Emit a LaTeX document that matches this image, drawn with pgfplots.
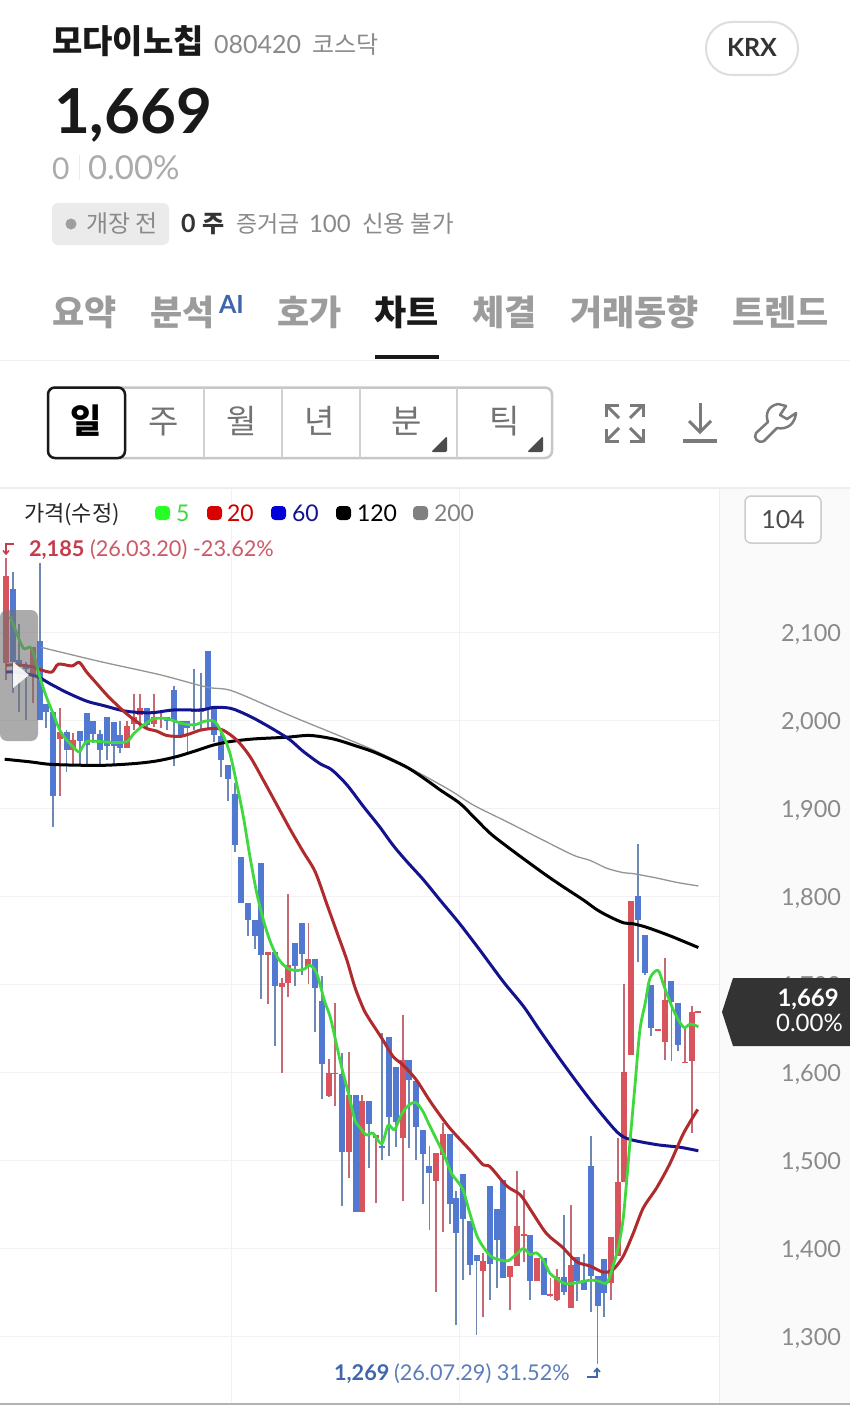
\documentclass[border=0pt]{standalone}
\usepackage{fontspec}
\usepackage{pgfplots}
\usepackage{pgfplotstable}
\pgfplotsset{compat=1.18}
\setmainfont{Lato}
\newfontfamily\kr{Noto Sans CJK KR}
\definecolor{upb}{HTML}{D9535C}
\definecolor{upw}{HTML}{C46A75}
\definecolor{dnb}{HTML}{5279D2}
\definecolor{dnw}{HTML}{6E88B4}
\definecolor{tabg}{HTML}{9C9C9C}
\definecolor{txg}{HTML}{8A8A8A}
\definecolor{lnr}{HTML}{B02A2E}
\definecolor{lng}{HTML}{3FD83F}
\definecolor{lnb}{HTML}{13138E}
\definecolor{hred}{HTML}{C33D4B}
\definecolor{hblue}{HTML}{3F66AC}
\pgfplotstableread{
x hi lo top bot
0 2185 2046 2164 2065
4 2084 2020 2084 2051
8 2014 1914 1987 1979
10 1986 1948 1978 1966
18 1999 1969 1994 1969
19 2030 1989 2004 1996
20 2030 1993 2014 2006
22 2030 1993 2004 1996
23 2008 1991 2004 2002
39 1737 1678 1737 1733
41 1707 1600 1702 1697
42 1803 1686 1722 1702
45 1770 1701 1729 1720
48 1615 1572 1599 1573
49 1679 1562 1600 1599
51 1623 1480 1574 1510
53 1574 1441 1568 1441
55 1529 1452 1529 1525
59 1665 1454 1614 1526
64 1508 1351 1508 1477
65 1543 1419 1530 1506
71 1395 1322 1386 1374
75 1380 1330 1380 1368
76 1488 1380 1426 1380
77 1466 1385 1416 1415
79 1389 1363 1389 1363
81 1366 1345 1348 1346
82 1377 1340 1368 1341
84 1450 1332 1381 1332
90 1413 1341 1413 1361
91 1525 1391 1475 1391
92 1700 1475 1601 1475
93 1795 1620 1795 1620
97 1649 1647 1649 1647
98 1730 1614 1682 1635
101 1652 1611 1612 1611
102 1675 1531 1669 1613
103 1670 1668 1670 1668
}\upcandles
\pgfplotstableread{
x hi lo top bot
1 2169 2031 2149 2067
2 2110 2010 2069 2063
3 2067 2000 2063 2059
5 2179 2001 2090 2001
6 2019 1991 2019 2010
7 2010 1879 2010 1914
9 1989 1942 1987 1966
11 1988 1948 1988 1977
12 2009 1949 2009 1972
13 1999 1974 1999 1985
14 1989 1948 1985 1966
15 2004 1955 2004 1971
16 1998 1949 1998 1971
17 1999 1963 1983 1969
21 2014 1991 2014 1995
24 2004 1989 2004 1999
25 2039 1948 2035 1999
26 1999 1980 1999 1982
27 1999 1963 1999 1991
28 2059 1989 2013 2010
29 2054 1989 2012 2010
30 2079 1991 2079 2014
31 2014 1976 2014 1983
32 1989 1936 1982 1955
33 1949 1909 1949 1934
34 1929 1850 1917 1858
35 1845 1793 1845 1793
36 1793 1755 1793 1773
37 1773 1740 1773 1755
38 1838 1683 1838 1733
40 1737 1630 1737 1698
43 1747 1698 1747 1721
44 1770 1711 1770 1735
46 1729 1646 1729 1696
47 1710 1570 1681 1610
50 1622 1448 1598 1510
52 1574 1441 1574 1441
54 1568 1491 1568 1542
56 1645 1500 1516 1515
57 1640 1505 1640 1550
58 1606 1515 1606 1544
60 1614 1514 1614 1591
61 1590 1500 1590 1538
62 1535 1451 1535 1507
63 1517 1421 1494 1486
66 1530 1428 1530 1451
67 1465 1313 1457 1418
68 1485 1364 1485 1434
69 1431 1370 1431 1381
70 1393 1302 1393 1386
72 1471 1342 1471 1382
73 1445 1355 1445 1410
74 1478 1367 1478 1367
78 1415 1342 1415 1363
80 1389 1347 1389 1347
83 1438 1347 1368 1350
85 1390 1340 1390 1363
86 1394 1353 1364 1353
87 1528 1328 1494 1369
88 1369 1269 1369 1335
89 1388 1322 1388 1350
94 1860 1725 1800 1773
95 1756 1711 1756 1713
96 1699 1641 1699 1650
99 1704 1613 1704 1680
100 1679 1624 1679 1631
}\dncandles
\begin{document}
\begin{tikzpicture}[t/.style={anchor=base west,inner sep=0pt,outer sep=0pt}]
\path[use as bounding box,fill=white] (0pt,0pt) rectangle (850pt,-1405pt);
\begin{scope}[x=1pt,y=1pt]
% header
\node[t,font=\kr\bfseries\fontsize{33}{33}\selectfont,text=black!90] at (52,-53) {모다이노칩};
\node[t,font=\fontsize{25}{25}\selectfont,text=txg] at (214,-53) {080420};
\node[t,font=\kr\fontsize{24}{24}\selectfont,text=txg] at (312,-53) {코스닥};
\draw[draw=black!13,line width=2pt,fill=white,rounded corners=26pt] (706,-22) rectangle (798,-75);
\node[font=\bfseries\fontsize{25}{25}\selectfont,text=black!80,inner sep=0pt,anchor=base] at (752,-57) {KRX};
\node[t,font=\bfseries\fontsize{62}{62}\selectfont,text=black!90] at (54,-133) {1,669};
\node[t,font=\fontsize{30}{30}\selectfont,text=tabg!85!white] at (52,-179) {0};
\draw[black!8,line width=1pt] (79,-155) -- (79,-180);
\node[t,font=\fontsize{33}{33}\selectfont,text=tabg!85!white] at (88,-179) {0.00\%};
\fill[fill=black!8,rounded corners=6pt] (52,-203) rectangle (169,-245);
\fill[black!38] (71,-224) circle (5.5);
\node[t,font=\kr\fontsize{24}{24}\selectfont,text=txg] at (86,-232) {개장 전};
\node[t,font=\bfseries\fontsize{25}{25}\selectfont,text=black!80] at (181,-232) {0};
\node[t,font=\kr\bfseries\fontsize{24}{24}\selectfont,text=black!80] at (202,-232) {주};
\node[t,font=\kr\fontsize{23}{23}\selectfont,text=txg] at (236,-232) {증거금};
\node[t,font=\fontsize{24}{24}\selectfont,text=txg] at (309,-232) {100};
\node[t,font=\kr\fontsize{23.5}{23.5}\selectfont,text=txg] at (362,-232) {신용 불가};
% tabs
\foreach \px/\w in {52/요약,150/분석,277/호가,472/체결,570/거래동향,732/트렌드}
  \node[t,font=\kr\bfseries\fontsize{35}{35}\selectfont,text=tabg] at (\px,-325) {\w};
\node[t,font=\kr\bfseries\fontsize{35}{35}\selectfont,text=black!90] at (374,-325) {차트};
\node[t,font=\bfseries\fontsize{25}{25}\selectfont,text=hblue] at (219,-313) {AI};
\fill[black!90] (375,-354.5) rectangle (439,-359);
\draw[black!6,line width=1pt] (0,-360) -- (850,-360);
% period buttons
\draw[draw=black!22,line width=2.5pt,rounded corners=7pt] (48,-387.5) rectangle (552,-458);
\foreach \px in {204,282,360,457} \draw[black!18,line width=1.5pt] (\px,-388) -- (\px,-458);
\draw[draw=black!90,line width=2.5pt,rounded corners=7pt,fill=white] (48,-387.5) -- (125,-387.5) -- (125,-458) -- (48,-458) -- cycle;
\node[font=\kr\bfseries\fontsize{34}{34}\selectfont,text=black,inner sep=0pt,anchor=base] at (86,-433) {일};
\foreach \px/\w in {164/주,242/월,320/년,407/분,505/틱}
  \node[font=\kr\fontsize{33}{33}\selectfont,text=black!55,inner sep=0pt,anchor=base] at (\px,-433) {\w};
\fill[black!70,rounded corners=1.5pt] (447,-452) -- (431,-452) -- (447,-436) -- cycle;
\fill[black!70,rounded corners=1.5pt] (543,-452) -- (527,-452) -- (543,-436) -- cycle;
% icons
\begin{scope}[draw=black!52,line width=3pt]
\draw (606,-417) -- (606,-405) -- (619,-405);
\draw (630,-405) -- (643,-405) -- (643,-417);
\draw (606,-429) -- (606,-441) -- (619,-441);
\draw (630,-441) -- (643,-441) -- (643,-429);
\draw (607,-406) -- (619,-418);\draw (642,-406) -- (630,-418);
\draw (607,-440) -- (619,-428);\draw (642,-440) -- (630,-428);
\draw (700,-403) -- (700,-432);\draw (689,-421) -- (700,-432) -- (711,-421);
\draw[line width=3.5pt] (683,-441) -- (717,-441);
\draw[line width=2.5pt,line join=round] (778,-404) .. controls (768,-406) and (765,-414) .. (768,-422) -- (756,-433) .. controls (753,-438) and (758,-444) .. (764,-441) -- (777,-428) .. controls (787,-430) and (795,-424) .. (796,-413) -- (787,-419) -- (780,-415) -- (786,-406) -- cycle;
\end{scope}
% chart frame
\fill[black!2] (719,-488) rectangle (850,-1403);
\draw[black!7,line width=2pt] (0,-488) -- (850,-488);
\draw[black!7,line width=1pt] (719,-488) -- (719,-1403);
\draw[black!30,line width=1.5pt] (0,-1404) -- (850,-1404);
\end{scope}
\begin{axis}[at={(0pt,-488pt)},anchor=north west,scale only axis,
  width=719pt,height=915pt,
  xmin=-0.893,xmax=106.07,ymin=1224.4,ymax=2264.2,
  xtick={33.6,67.5},xticklabels={},
  ytick={1300,1400,...,2100},
  yticklabel pos=right,
  axis line style={draw=none},major tick length=0pt,
  grid=major,grid style={draw=black!5,line width=1pt},
  /pgf/number format/assume math mode=true,
  /pgf/number format/1000 sep={,},
  yticklabel style={anchor=west,xshift=62pt,yshift=-2pt,font=\fontsize{23.5}{23.5}\selectfont,text=txg,inner sep=0pt},
  line join=round]
% wicks
\addplot[draw=none,mark=none,forget plot,error bars/.cd,y dir=both,y explicit,error mark=none,error bar style={line width=1.9pt,upw}]
  table[x=x,y expr={(\thisrow{hi}+\thisrow{lo})/2},y error expr={(\thisrow{hi}-\thisrow{lo})/2}] {\upcandles};
\addplot[draw=none,mark=none,forget plot,error bars/.cd,y dir=both,y explicit,error mark=none,error bar style={line width=1.9pt,dnw}]
  table[x=x,y expr={(\thisrow{hi}+\thisrow{lo})/2},y error expr={(\thisrow{hi}-\thisrow{lo})/2}] {\dncandles};
% bodies
\addplot[draw=none,mark=none,forget plot,error bars/.cd,y dir=both,y explicit,error mark=none,error bar style={line width=6pt,upb}]
  table[x=x,y expr={(\thisrow{top}+\thisrow{bot})/2},y error expr={(\thisrow{top}-\thisrow{bot})/2}] {\upcandles};
\addplot[draw=none,mark=none,forget plot,error bars/.cd,y dir=both,y explicit,error mark=none,error bar style={line width=6pt,dnb}]
  table[x=x,y expr={(\thisrow{top}+\thisrow{bot})/2},y error expr={(\thisrow{top}-\thisrow{bot})/2}] {\dncandles};
% MA200
\addplot[draw=black!42,line width=1.3pt,mark=none,smooth,tension=0.5] coordinates {
(5.3,2083)(14,2067)(22.9,2052)(29.8,2038)(33.5,2034)(40,2013)(43.7,2001)(48.2,1987)(51.7,1976)(55.1,1965)(59.6,1948)(66,1921)(69.5,1904)(74.5,1885)(79.4,1866)(84.4,1847)(86.9,1841)(89.4,1832)(91.9,1827)(93.3,1826)(96.8,1821)(99.8,1816)(103,1812)};
% MA120
\addplot[draw=black,line width=3pt,mark=none,smooth,tension=0.5] coordinates {
(-0.2,1956)(3.6,1953)(7,1950)(14,1949)(19,1951)(22.4,1954)(25.4,1959)(28.4,1966)(30.8,1972)(33.3,1976)(36.8,1979)(41.75,1981)(45.2,1983)(48.7,1979)(51.7,1972)(55.1,1963)(59.6,1947)(62.6,1932)(64.6,1921)(67.5,1906)(69.5,1891)(72,1872)(74.5,1857)(77.5,1840)(80.4,1824)(82.9,1811)(85.9,1796)(87.9,1785)(89.8,1777)(91.9,1770)(93.3,1769)(95.3,1765)(98.55,1756)(100.8,1749)(103,1742)};
% MA60
\addplot[draw=lnb,line width=3pt,mark=none,smooth,tension=0.5] coordinates {
(0,2055)(1.6,2055)(4.6,2050)(6.5,2042)(9,2032)(12,2022)(14.5,2017)(17.5,2011)(20,2009)(22,2009)(25,2012)(29,2012)(31,2015)(33.3,2014)(34.8,2010)(37,2002)(40,1989)(42.25,1978)(44.2,1965)(46.7,1951)(48.45,1944)(50.7,1927)(53.2,1902)(55.6,1879)(57.6,1858)(59.6,1840)(62.1,1819)(64.56,1796)(67.5,1769)(70.5,1739)(74,1703)(77,1675)(79.4,1648)(82.9,1610)(86.4,1574)(88.9,1550)(91.1,1531)(92.8,1524)(96.8,1518)(100.3,1515)(103,1511)};
% MA20
\addplot[draw=lnr,line width=3pt,mark=none,smooth,tension=0.5] coordinates {
(0,2063)(2,2063)(4,2061)(5,2058)(6.8,2055)(7.8,2064)(9.8,2062)(10.9,2066)(12,2055)(13.5,2042)(15,2029)(17,2014)(18.2,2006)(19.4,1999)(20.9,1991)(22.4,1988)(23.9,1983)(25.9,1982)(27.4,1985)(28.9,1989)(30.9,1991)(32.3,1989)(34.3,1978)(36.3,1959)(38.3,1932)(40.3,1904)(42.3,1876)(44.2,1851)(46,1828)(47.7,1792)(49.2,1760)(50.7,1728)(51.9,1697)(53.2,1672)(54.1,1660)(55.9,1639)(57.6,1618)(59,1609)(61,1592)(63.3,1565)(66,1537)(69,1512)(71,1495)(72,1493)(74.5,1471)(76.5,1461)(78.2,1442)(80.4,1417)(82.7,1402)(84.9,1385)(86.9,1380)(88.9,1373)(90.3,1376)(91.8,1391)(93.3,1417)(94.8,1446)(96.8,1469)(98.8,1497)(100.8,1531)(102.9,1558)};
% MA5
\addplot[draw=lng,line width=2.8pt,mark=none,smooth,tension=0.5] coordinates {
(0.6,2118)(1.4,2103)(2.6,2082)(3.8,2082)(5,2050)(6,2027)(7,2008)(8,1989)(9,1978)(10.5,1966)(11,1965)(12,1976)(14,1976)(16,1975)(18,1976)(19,1985)(20.5,1995)(22,2002)(24,2002)(26,1997)(28,1995)(29.5,1999)(31,1999)(32.3,1983)(33.3,1963)(34.3,1929)(35.3,1891)(36.3,1845)(37.3,1804)(38.3,1773)(39.3,1749)(40.3,1732)(41.3,1722)(42.3,1717)(43.5,1716)(44.5,1718)(45.2,1722)(46.2,1713)(47.4,1681)(48.2,1664)(48.9,1641)(49.9,1607)(51.05,1573)(51.9,1546)(52.6,1538)(53.6,1529)(54.6,1531)(55.9,1519)(56.85,1540)(57.8,1535)(58.8,1552)(59.8,1562)(60.95,1566)(62,1556)(63,1540)(64.3,1520)(65.3,1504)(66.3,1485)(67.9,1468)(69,1440)(70.2,1412)(72,1392)(73.5,1387)(74.7,1386)(76,1394)(77,1400)(78,1393)(78.9,1395)(79.9,1387)(80.9,1372)(81.9,1366)(83.2,1360)(84.9,1361)(86.9,1364)(88.1,1363)(89.4,1361)(90.3,1380)(91.1,1402)(91.8,1433)(92.3,1474)(92.85,1523)(93.6,1588)(94.3,1648)(95.1,1679)(95.8,1707)(97,1716)(97.9,1698)(99.05,1675)(100,1660)(100.9,1651)(101.8,1655)(103,1652)};
\end{axis}
\begin{scope}[x=1pt,y=1pt]
% scroll handle
\fill[black!55,opacity=.6,rounded corners=7pt] (0,-610) -- (38,-610) -- (38,-741) -- (0,-741) -- cycle;
\fill[white,opacity=.9] (13,-662) -- (29,-675) -- (13,-688) -- cycle;
% high/low labels
\draw[hred,line width=1.6pt] (14,-544) -- (6,-544) -- (6,-554);\draw[hred,line width=1.6pt] (3,-550.5) -- (6,-554) -- (9,-550.5);
\node[t,font=\bfseries\fontsize{21.7}{21.7}\selectfont,text=hred] at (29,-556) {2,185};
\node[t,font=\fontsize{21.7}{21.7}\selectfont,text=hred!85!white] at (90,-556) {(26.03.20) -23.62\%};
\node[t,font=\bfseries\fontsize{21.7}{21.7}\selectfont,text=hblue] at (334,-1380) {1,269};
\node[t,font=\fontsize{21.7}{21.7}\selectfont,text=hblue!85!white] at (394,-1380) {(26.07.29) 31.52\%};
\draw[hblue,line width=1.6pt] (587,-1377) -- (597,-1377) -- (597,-1369);\draw[hblue,line width=1.6pt] (594,-1372) -- (597,-1368.5) -- (600,-1372);
% legend
\node[t,font=\kr\fontsize{22}{22}\selectfont,text=black!85] at (24,-521) {가격(수정)};
\foreach \px/\c in {155/green!85!white,207/red!85!black,271/blue!85!black,336/black,413/black!50}
  \fill[fill=\c,rounded corners=4pt] (\px,-506) rectangle (\px+15,-520);
\node[t,font=\fontsize{23}{23}\selectfont,text=lng] at (176,-521) {5};
\node[t,font=\fontsize{23}{23}\selectfont,text=red!80!black] at (227,-521) {20};
\node[t,font=\fontsize{23}{23}\selectfont,text=lnb] at (292,-521) {60};
\node[t,font=\fontsize{23}{23}\selectfont,text=black] at (357,-521) {120};
\node[t,font=\fontsize{23}{23}\selectfont,text=black!50] at (434,-521) {200};
% count box
\draw[draw=black!20,line width=1.5pt,fill=white,rounded corners=6pt] (745,-496) rectangle (821,-543);
\node[font=\fontsize{25}{25}\selectfont,text=black!70,inner sep=0pt,anchor=base] at (783,-528) {104};
% price flag
\fill[black!80] (850,-978) -- (733,-978) -- (722,-1012) -- (733,-1046) -- (850,-1046) -- cycle;
\node[anchor=base east,inner sep=0pt,font=\bfseries\fontsize{24}{24}\selectfont,text=white] at (839,-1006) {1,669};
\node[anchor=base east,inner sep=0pt,font=\fontsize{24}{24}\selectfont,text=white] at (843,-1031) {0.00\%};
\end{scope}
\end{tikzpicture}
\end{document}
